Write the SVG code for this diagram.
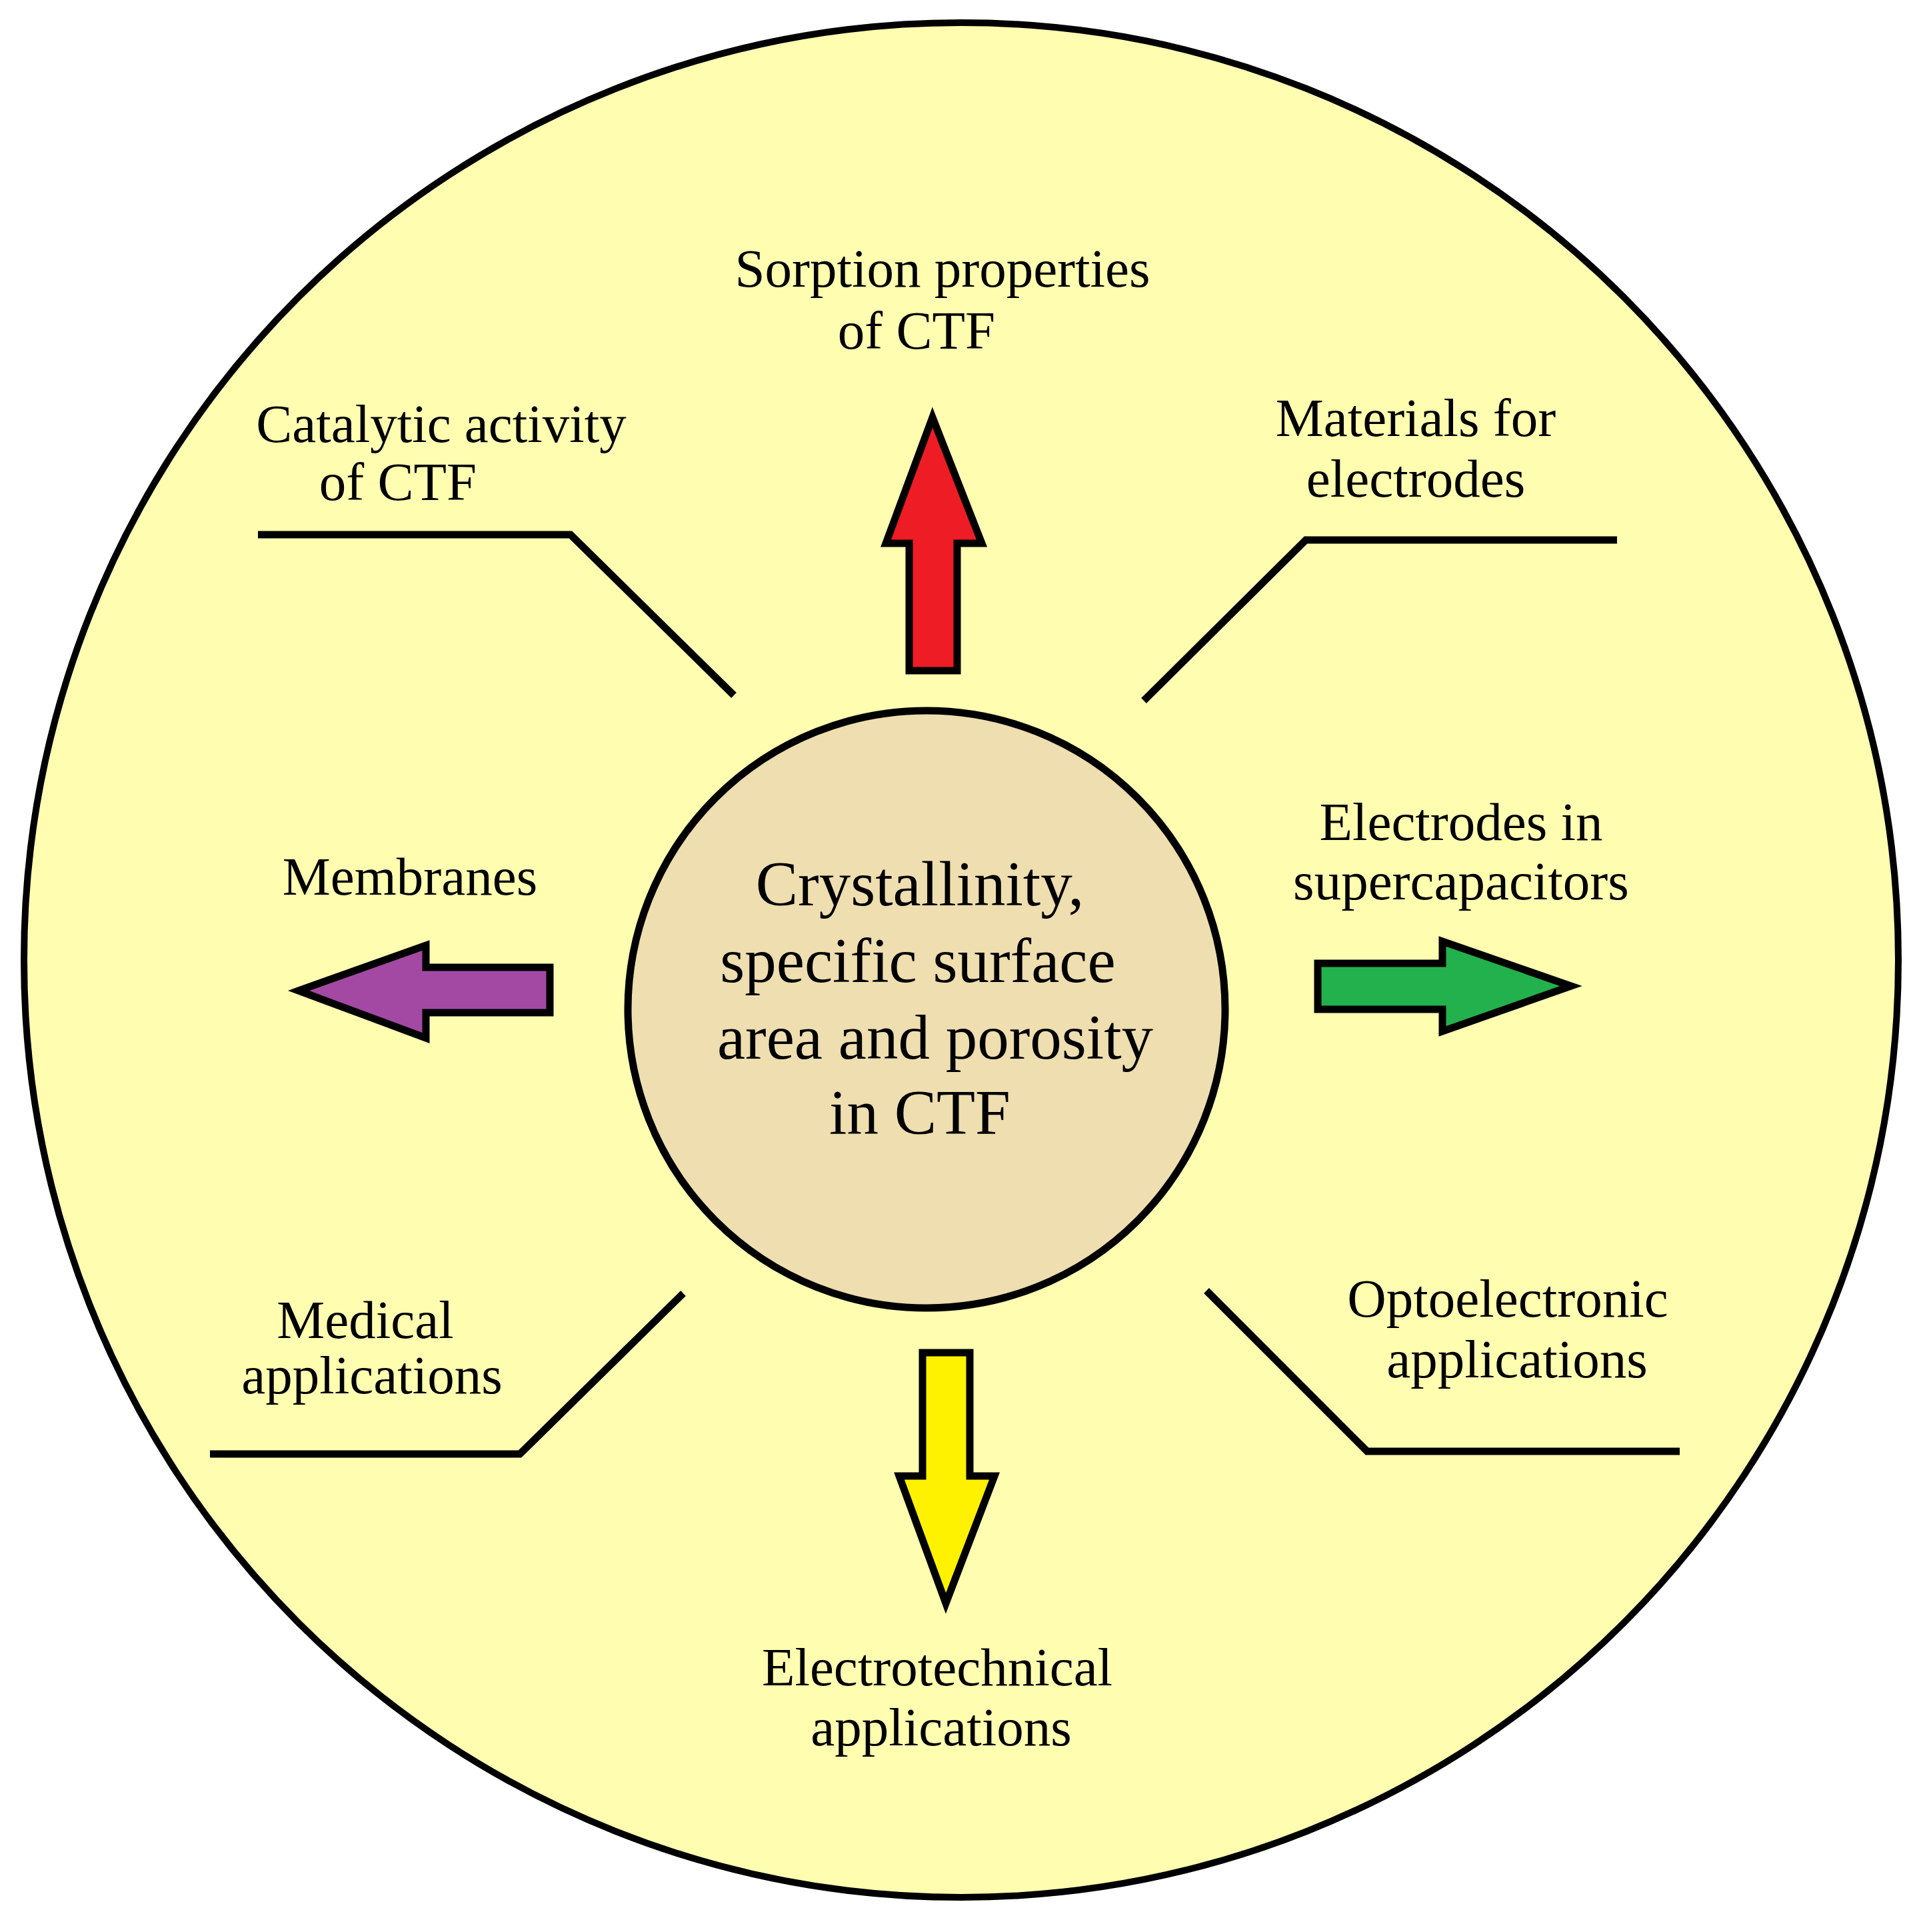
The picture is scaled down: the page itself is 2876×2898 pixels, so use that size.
<svg xmlns="http://www.w3.org/2000/svg" width="2876" height="2898" viewBox="0 0 2876 2898">
<style>
.t{font-family:"Liberation Serif","Times New Roman",serif;font-size:81px;fill:#000;text-anchor:middle}
.c{font-size:95px}
.l{fill:none;stroke:#000;stroke-width:11}
.a{stroke:#000;stroke-width:11;stroke-linejoin:miter}
</style>
<rect width="2876" height="2898" fill="#fff"/>
<g id="outer"><circle cx="1442" cy="1440" r="1406" fill="#FFFDB0" stroke="#000" stroke-width="10"/></g>
<g id="center"><circle cx="1390" cy="1514" r="448" fill="#EEDEB0" stroke="#000" stroke-width="11"/>
<text class="t c" x="1380" y="1358">Crystallinity,</text>
<text class="t c" x="1377" y="1473">specific surface</text>
<text class="t c" x="1403" y="1588">area and porosity</text>
<text class="t c" x="1380" y="1701">in CTF</text></g>
<g id="connectors">
<polygon class="a" fill="#EE1C24" points="1399,626 1473,815 1436,815 1436,1006 1364,1006 1364,815 1329,815"/>
<polygon class="a" fill="#FFF200" points="1384,2029 1455,2029 1455,2214 1492,2214 1419,2405 1349,2214 1384,2214"/>
<polygon class="a" fill="#A349A4" points="448,1486 639,1418 639,1451 825,1451 825,1519 639,1519 639,1557"/>
<polygon class="a" fill="#22B14C" points="1977,1445 2164,1445 2164,1412 2357,1479 2164,1547 2164,1514 1977,1514"/>
<polyline class="l" points="387,802 856,802 1101,1043"/>
<polyline class="l" points="1716,1051 1959,810 2426,810"/>
<polyline class="l" points="1025,1940 780,2181 315,2181"/>
<polyline class="l" points="1810,1936 2051,2177 2520,2177"/>
</g>
<g id="sorption"><text class="t" x="1414" y="430">Sorption properties</text><text class="t" x="1375" y="523">of CTF</text></g>
<g id="catalytic"><text class="t" x="662" y="663">Catalytic activity</text><text class="t" x="597" y="750">of CTF</text></g>
<g id="materials"><text class="t" x="2124" y="654">Materials for</text><text class="t" x="2124" y="745">electrodes</text></g>
<g id="membranes"><text class="t" x="615" y="1342">Membranes</text></g>
<g id="supercap"><text class="t" x="2192" y="1260">Electrodes in</text><text class="t" x="2192" y="1349">supercapacitors</text></g>
<g id="medical"><text class="t" x="548" y="2007">Medical</text><text class="t" x="558" y="2090">applications</text></g>
<g id="opto"><text class="t" x="2262" y="1975">Optoelectronic</text><text class="t" x="2276" y="2066">applications</text></g>
<g id="electro"><text class="t" x="1406" y="2528">Electrotechnical</text><text class="t" x="1412" y="2618">applications</text></g>
</svg>
